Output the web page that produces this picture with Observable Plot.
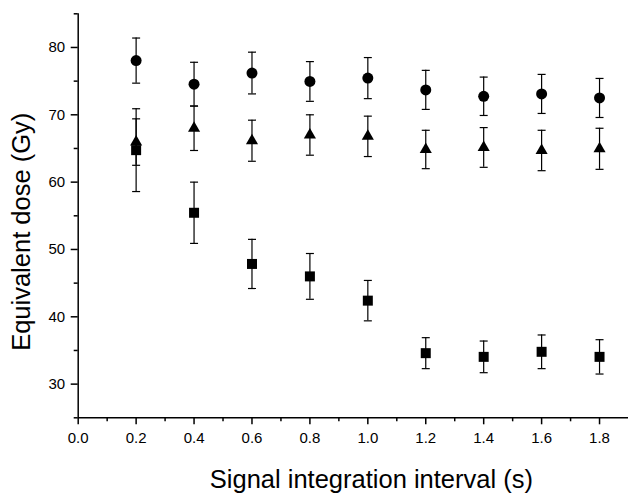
<!DOCTYPE html>
<html><head><meta charset="utf-8">
<script src="https://cdn.jsdelivr.net/npm/d3@7"></script>
<script src="https://cdn.jsdelivr.net/npm/@observablehq/plot@0.6"></script>
<style>body{margin:0;background:#fff} svg{display:block}</style>
</head><body><div id="chart"></div>
<script>
const intervals = [0.2, 0.4, 0.6, 0.8, 1.0, 1.2, 1.4, 1.6, 1.8];
const circleDose = [78.05, 74.55, 76.2, 74.95, 75.45, 73.7, 72.75, 73.1, 72.5];
const circleErr  = [3.35, 3.25, 3.1, 2.95, 3.05, 2.9, 2.85, 2.9, 2.9];
const triangleDose = [65.95, 68.0, 66.15, 67.0, 66.8, 64.85, 65.15, 64.7, 64.95];
const triangleErr  = [3.45, 3.3, 3.05, 3.0, 3.0, 2.85, 2.95, 3.0, 3.05];
const squareDose = [64.75, 55.45, 47.85, 46.0, 42.4, 34.6, 34.05, 34.8, 34.05];
const squareErr  = [6.15, 4.55, 3.65, 3.4, 3.0, 2.3, 2.35, 2.5, 2.55];

const xMajorTicks = [0, 0.2, 0.4, 0.6, 0.8, 1.0, 1.2, 1.4, 1.6, 1.8];
const xMinorTicks = [0.1, 0.3, 0.5, 0.7, 0.9, 1.1, 1.3, 1.5, 1.7];
const yMajorTicks = [30, 40, 50, 60, 70, 80];
const yMinorTicks = [25, 35, 45, 55, 65, 75, 85];

const xTitle = "Signal integration interval (s)";
const yTitle = "Equivalent dose (Gy)";

const build = (shape, dose, err) => intervals.map((x, i) => ({shape, x, y: dose[i], lo: dose[i] - err[i], hi: dose[i] + err[i]}));
const squares = build("square", squareDose, squareErr);
const triangles = build("triangle", triangleDose, triangleErr);
const circles = build("circle", circleDose, circleErr);
const all = [...squares, ...triangles, ...circles];

const cap = {draw(ctx) { ctx.moveTo(-4, 0); ctx.lineTo(4, 0); }};

const chart = Plot.plot({
  width: 628, height: 496,
  marginLeft: 77.7, marginRight: 0, marginTop: 13.3, marginBottom: 78.7,
  style: {fontFamily: "'Liberation Sans', Arial, sans-serif", fontSize: "15px", color: "#000", background: "#fff", overflow: "visible"},
  x: {domain: [0, 1.9]},
  y: {domain: [25, 85]},
  marks: [
    Plot.ruleX([0], {strokeWidth: 1.5, stroke: "black"}),
    Plot.ruleY([25], {strokeWidth: 1.5, stroke: "black"}),
    Plot.axisX(xMajorTicks, {tickSize: 7, tickPadding: 8, tickFormat: d3.format(".1f"), label: null, strokeWidth: 1.5, fontSize: 15}),
    Plot.axisX(xMinorTicks, {tickSize: 4, text: null, label: null, strokeWidth: 1.5}),
    Plot.axisY(yMajorTicks, {tickSize: 7, tickPadding: 6, label: null, strokeWidth: 1.5, fontSize: 15}),
    Plot.axisY(yMinorTicks, {tickSize: 4, text: null, label: null, strokeWidth: 1.5}),
    Plot.ruleX(all, {x: "x", y1: "lo", y2: "hi", stroke: "black", strokeWidth: 1.2}),
    Plot.dot(all, {x: "x", y: "lo", symbol: cap, fill: "none", stroke: "black", strokeWidth: 1.2}),
    Plot.dot(all, {x: "x", y: "hi", symbol: cap, fill: "none", stroke: "black", strokeWidth: 1.2}),
    Plot.dot(squares, {x: "x", y: "y", symbol: "square", r: 5.64, fill: "black", stroke: "none"}),
    Plot.dot(triangles, {x: "x", y: "y", symbol: "triangle", r: 4.5, fill: "black", stroke: "none"}),
    Plot.dot(circles, {x: "x", y: "y", symbol: "circle", r: 5.5, fill: "black", stroke: "none"}),
    Plot.text([xTitle], {frameAnchor: "bottom", textAnchor: "middle", lineAnchor: "middle", dx: 18, dy: 62, fontSize: 25.5, fill: "black"}),
    Plot.text([yTitle], {frameAnchor: "left", textAnchor: "middle", lineAnchor: "middle", dx: -56, dy: 16, rotate: -90, fontSize: 25.5, fill: "black"})
  ]
});
document.getElementById("chart").appendChild(chart);
</script>
</body></html>
